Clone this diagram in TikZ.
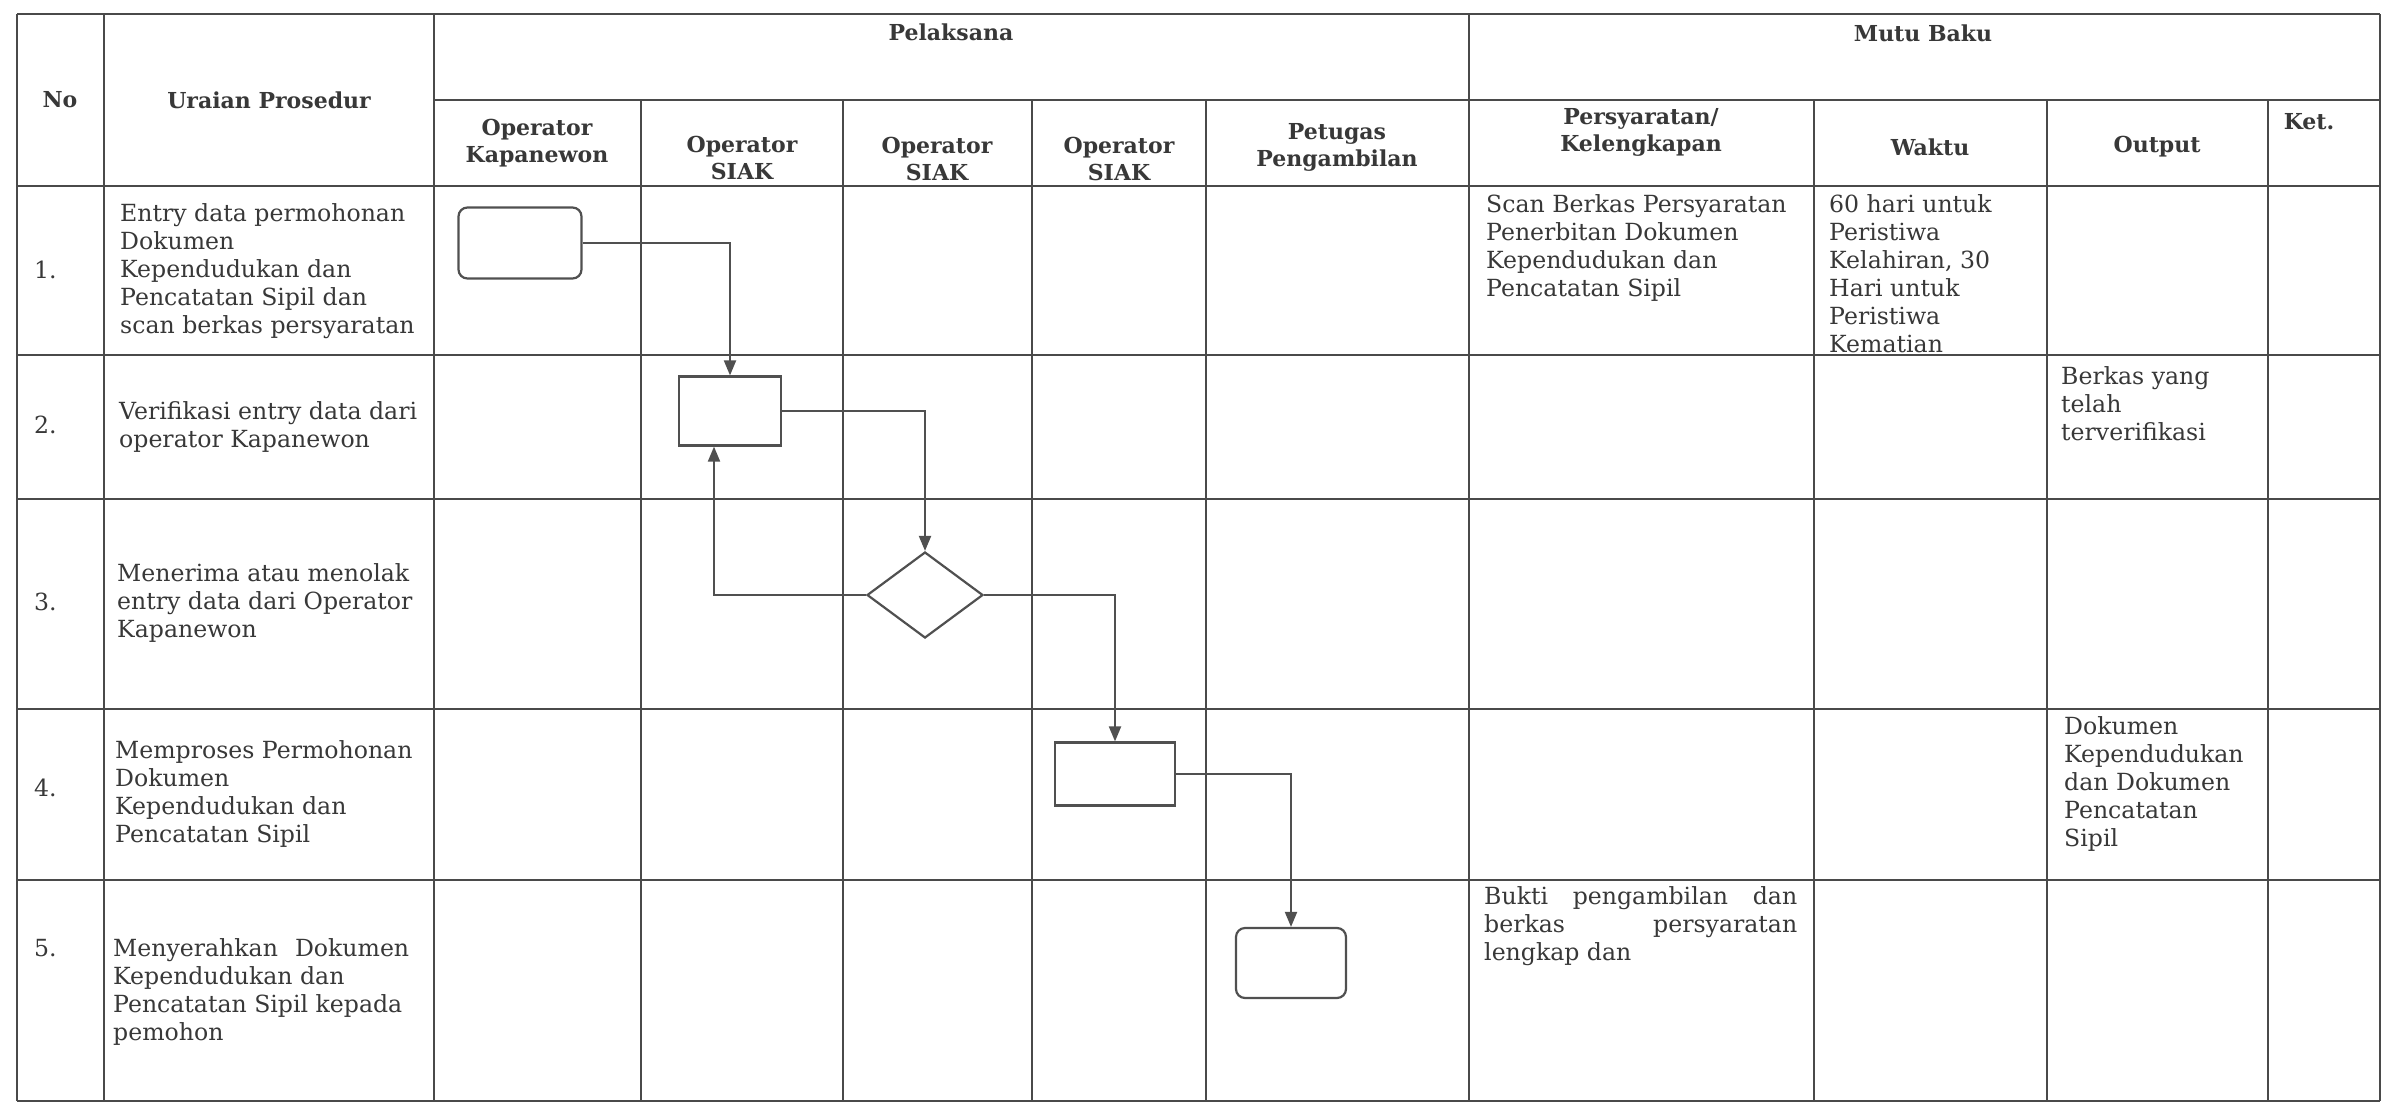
\documentclass[tikz,border=0pt]{standalone}
\usepackage{fontspec}
\setmainfont{DejaVu Serif}
\usetikzlibrary{positioning,arrows.meta,shapes.geometric}
\definecolor{ink}{HTML}{383838}
\definecolor{rulec}{HTML}{4A4A4A}
\definecolor{shapec}{HTML}{505050}

\begin{document}
\begin{tikzpicture}[
  x=1pt, y=-1pt,
  font=\fontsize{23.6}{28}\selectfont,
  grid/.style={draw=rulec, line width=2pt},
  hdr/.style={font=\fontsize{22}{27}\selectfont\bfseries, text=ink,
              align=center, inner sep=0pt},
  txt/.style={text=ink, align=left, inner sep=0pt, anchor=north west},
  uraian/.style={text=ink, align=left, inner sep=0pt, anchor=west},
  num/.style={text=ink, inner sep=0pt, anchor=west},
  proc/.style={draw=shapec, line width=2.2pt, fill=white, inner sep=0pt},
  term/.style={proc, rounded corners=9pt},
  dec/.style={proc, diamond, aspect=1.35},
  arrow/.style={draw=shapec, line width=2pt,
                -{Triangle[length=15pt,width=12pt]}}
]
\useasboundingbox[fill=white] (0,0) rectangle (2382,1104);

\foreach \x in {17,104,434,1469,2380}
  \draw[grid] (\x,14) -- (\x,1101);
\foreach \x in {641,843,1032,1206,1814,2047,2268}
  \draw[grid] (\x,100) -- (\x,1101);
\draw[grid] (434,100) -- (2380,100);
\foreach \y in {14,186,355,499,709,880,1101}
  \draw[grid] (17,\y) -- (2380,\y);

\node[hdr] (hno) at (60,100) {No};
\node[hdr] (huraian) at (269,100) {Uraian Prosedur};
\node[hdr] (hpelaksana) at (951,32) {Pelaksana};
\node[hdr] (hmutu) at (1923,33) {Mutu Baku};
\node[hdr] (hkap) at (537,143) {Operator\\Kapanewon};
\node[hdr] (hsiaka) at (742,158) {Operator\\SIAK};
\node[hdr] (hsiakb) at (937,159) {Operator\\SIAK};
\node[hdr] (hsiakc) at (1119,159) {Operator\\SIAK};
\node[hdr] (hpetugas) at (1337,147) {Petugas\\Pengambilan};
\node[hdr] (hsyarat) at (1641,132) {Persyaratan/\\Kelengkapan};
\node[hdr] (hwaktu) at (1930,147) {Waktu};
\node[hdr] (houtput) at (2157,147) {Output};
\node[hdr] (hket) at (2309,122) {Ket.};

\node[num] (n1) at (34,270) {1.};
\node[num] (n2) at (34,425) {2.};
\node[num] (n3) at (34,602) {3.};
\node[num] (n4) at (34,788) {4.};
\node[num] (n5) at (34,948) {5.};

\node[uraian] (u1) at (120,271) {Entry data permohonan\\Dokumen\\Kependudukan dan\\Pencatatan Sipil dan\\scan berkas persyaratan};
\node[uraian] (u2) at (119,427) {Verifikasi entry data dari\\operator Kapanewon};
\node[uraian] (u3) at (117,603) {Menerima atau menolak\\entry data dari Operator\\Kapanewon};
\node[uraian] (u4) at (115,794) {Memproses Permohonan\\Dokumen\\Kependudukan dan\\Pencatatan Sipil};
\node[uraian] (u5) at (113,992) {\makebox[296pt][s]{Menyerahkan Dokumen}\\Kependudukan dan\\Pencatatan Sipil kepada\\pemohon};

\node[txt] (s1) at (1486,194) {Scan Berkas Persyaratan\\Penerbitan Dokumen\\Kependudukan dan\\Pencatatan Sipil};
\node[txt] (w1) at (1829,194) {60 hari untuk\\Peristiwa\\Kelahiran, 30\\Hari untuk\\Peristiwa\\Kematian};
\node[txt] (o2) at (2061,366) {Berkas yang\\telah\\terverifikasi};
\node[txt] (o4) at (2064,716) {Dokumen\\Kependudukan\\dan Dokumen\\Pencatatan\\Sipil};
\node[txt] (s5) at (1484,886) {\makebox[313pt][s]{Bukti pengambilan dan}\\\makebox[313pt][s]{berkas persyaratan}\\lengkap dan};

\node[term, minimum width=123pt, minimum height=71pt] (start) at (520,243) {};
\node[proc, minimum width=102pt, minimum height=69pt] (verif) at (730,411) {};
\node[dec, minimum width=116pt, minimum height=86pt] (cek) at (925,595) {};
\node[proc, minimum width=120pt, minimum height=63pt] (proses) at (1115,774) {};
\node[term, minimum width=110pt, minimum height=70pt] (serah) at (1291,963) {};

\draw[arrow] (start.east) -| (verif.north);
\draw[arrow] (verif.east) -| (cek.north);
\draw[arrow] (cek.west) -| ([xshift=-16pt]verif.south);
\draw[arrow] (cek.east) -| (proses.north);
\draw[arrow] (proses.east) -| (serah.north);
\end{tikzpicture}
\end{document}
